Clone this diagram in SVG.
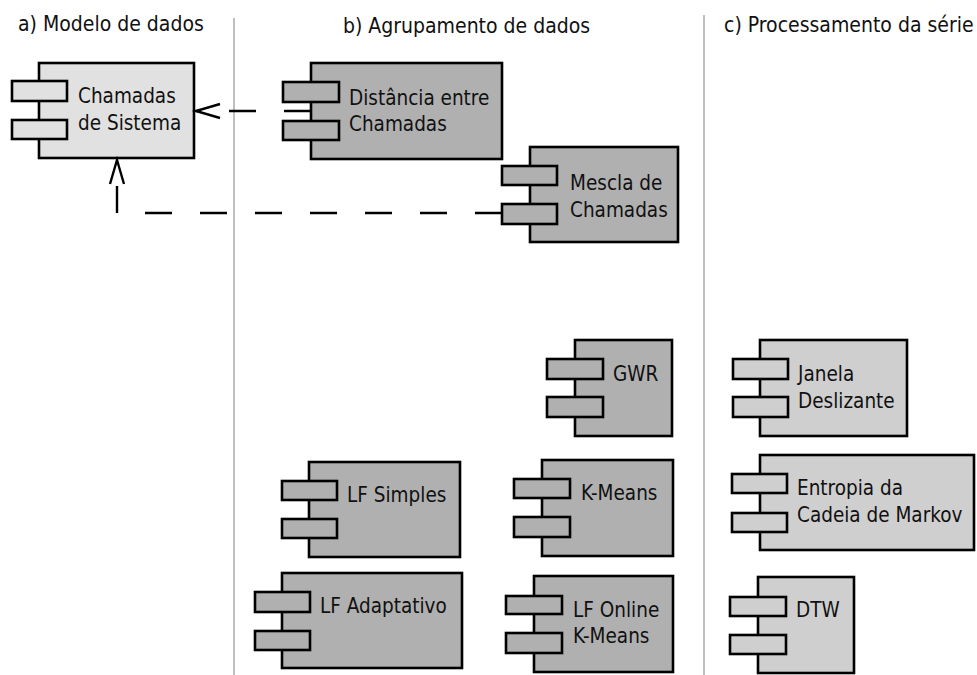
<svg xmlns="http://www.w3.org/2000/svg" width="977" height="675" viewBox="0 0 977 675">
  <style>
    text { font-family: "DejaVu Sans Condensed", "DejaVu Sans", sans-serif; font-stretch: condensed; fill: #111; }
    .title { font-size: 21px; }
    .label { font-size: 20.5px; }
    .body, .tab { stroke: #000; stroke-width: 2.6; }
    .model .body, .model .tab { fill: #e1e1e1; }
    .group .body, .group .tab { fill: #b0b0b0; }
    .series .body, .series .tab { fill: #cfcfcf; }
    .sep { stroke: #aaa; stroke-width: 1.5; fill: none; }
    .dep { stroke: #000; stroke-width: 2.4; fill: none; stroke-dasharray: 27 28; marker-end: url(#open); }
  </style>
  <defs>
    <marker id="open" markerUnits="userSpaceOnUse" markerWidth="30" markerHeight="20" refX="0" refY="0" viewBox="-26 -10 30 20" orient="auto" overflow="visible">
      <path d="M -24 -7 L 0 0 L -24 7" fill="none" stroke="#000" stroke-width="2.4"/>
    </marker>
  </defs>

  <rect width="977" height="675" fill="#fff"/>

  <!-- column separators -->
  <line class="sep" x1="234" y1="18" x2="234" y2="675"/>
  <line class="sep" x1="704" y1="15" x2="704" y2="675"/>

  <!-- column headings -->
  <text class="title" x="18" y="31">a) Modelo de dados</text>
  <text class="title" x="343" y="33">b) Agrupamento de dados</text>
  <text class="title" x="724" y="32">c) Processamento da série</text>

  <!-- a) data model -->
  <g id="chamadas-sistema" class="model">
    <rect class="body" x="39" y="63" width="155" height="95"/>
    <rect class="tab" x="12" y="81" width="55" height="20"/>
    <rect class="tab" x="12" y="120" width="55" height="19"/>
    <text class="label" x="78" y="103">Chamadas</text>
    <text class="label" x="78" y="130">de Sistema</text>
  </g>

  <!-- b) data clustering -->
  <g id="distancia-chamadas" class="group">
    <rect class="body" x="311" y="63" width="191" height="96"/>
    <rect class="tab" x="283" y="82" width="56" height="20"/>
    <rect class="tab" x="283" y="121" width="56" height="19"/>
    <text class="label" x="349" y="105">Distância entre</text>
    <text class="label" x="349" y="131">Chamadas</text>
  </g>

  <g id="mescla-chamadas" class="group">
    <rect class="body" x="530" y="147" width="148" height="95"/>
    <rect class="tab" x="502" y="166" width="55" height="19"/>
    <rect class="tab" x="502" y="204" width="55" height="20"/>
    <text class="label" x="570" y="190">Mescla de</text>
    <text class="label" x="570" y="217">Chamadas</text>
  </g>

  <g id="gwr" class="group">
    <rect class="body" x="575" y="340" width="97" height="96"/>
    <rect class="tab" x="547" y="359" width="56" height="20"/>
    <rect class="tab" x="547" y="397" width="56" height="20"/>
    <text class="label" x="613" y="381">GWR</text>
  </g>

  <g id="lf-simples" class="group">
    <rect class="body" x="309" y="462" width="151" height="95"/>
    <rect class="tab" x="282" y="481" width="55" height="19"/>
    <rect class="tab" x="282" y="519" width="55" height="19"/>
    <text class="label" x="347" y="502">LF Simples</text>
  </g>

  <g id="k-means" class="group">
    <rect class="body" x="542" y="460" width="131" height="96"/>
    <rect class="tab" x="514" y="479" width="56" height="19"/>
    <rect class="tab" x="514" y="517" width="56" height="20"/>
    <text class="label" x="581" y="500">K-Means</text>
  </g>

  <g id="lf-adaptativo" class="group">
    <rect class="body" x="282" y="573" width="180" height="95"/>
    <rect class="tab" x="255" y="592" width="55" height="20"/>
    <rect class="tab" x="255" y="631" width="55" height="19"/>
    <text class="label" x="320" y="613">LF Adaptativo</text>
  </g>

  <g id="lf-online-k-means" class="group">
    <rect class="body" x="534" y="576" width="139" height="96"/>
    <rect class="tab" x="506" y="596" width="56" height="18"/>
    <rect class="tab" x="506" y="633" width="56" height="20"/>
    <text class="label" x="573" y="617">LF Online</text>
    <text class="label" x="573" y="643">K-Means</text>
  </g>

  <!-- c) series processing -->
  <g id="janela-deslizante" class="series">
    <rect class="body" x="760" y="340" width="147" height="96"/>
    <rect class="tab" x="733" y="359" width="55" height="20"/>
    <rect class="tab" x="733" y="397" width="55" height="20"/>
    <text class="label" x="798" y="381">Janela</text>
    <text class="label" x="798" y="408">Deslizante</text>
  </g>

  <g id="entropia-markov" class="series">
    <rect class="body" x="760" y="455" width="214" height="95"/>
    <rect class="tab" x="732" y="474" width="55" height="19"/>
    <rect class="tab" x="732" y="513" width="55" height="19"/>
    <text class="label" x="797" y="495">Entropia da</text>
    <text class="label" x="797" y="522">Cadeia de Markov</text>
  </g>

  <g id="dtw" class="series">
    <rect class="body" x="758" y="577" width="96" height="96"/>
    <rect class="tab" x="730" y="597" width="56" height="19"/>
    <rect class="tab" x="730" y="635" width="56" height="19"/>
    <text class="label" x="796" y="617">DTW</text>
  </g>

  <!-- dependencies -->
  <g id="connectors">
    <path class="dep" d="M 311 111 H 196"/>
    <path class="dep" d="M 502 213 H 117 V 160"/>
  </g>
</svg>
